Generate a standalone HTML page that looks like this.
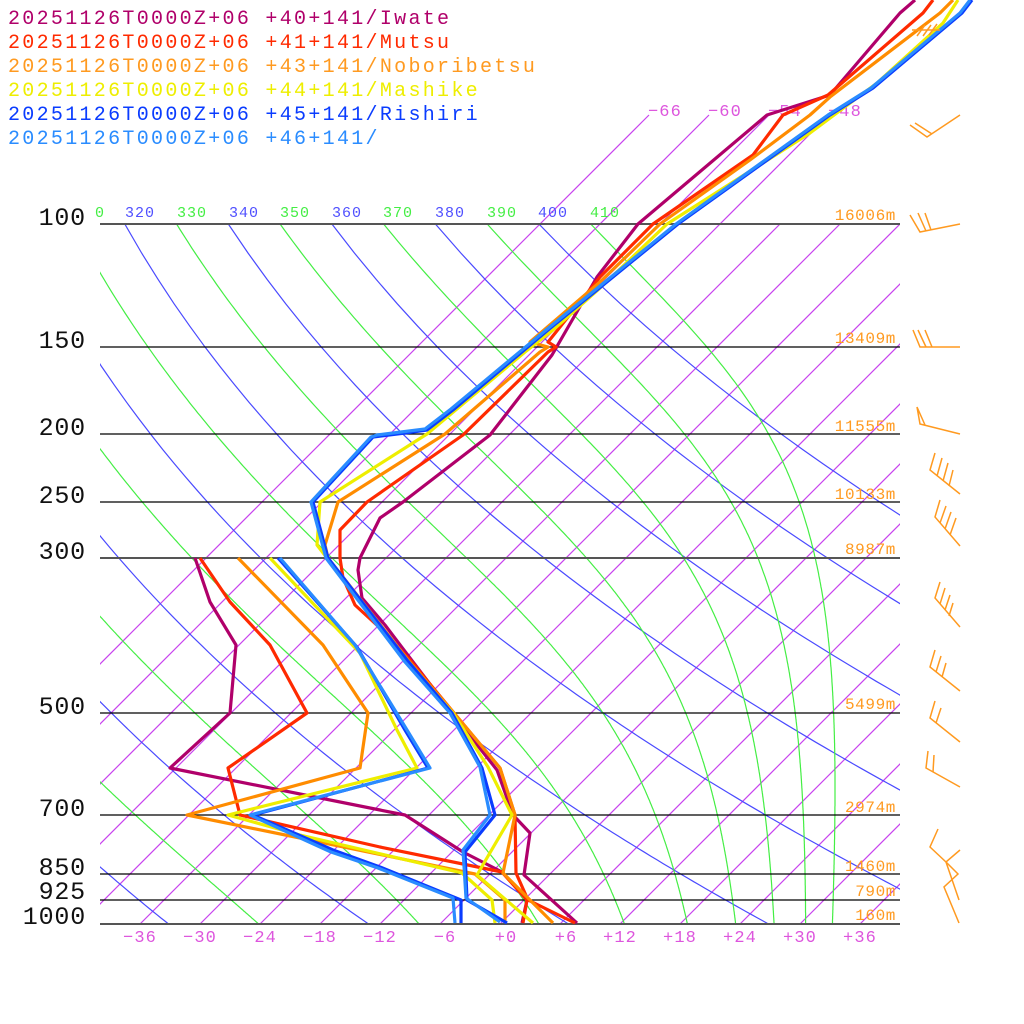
<!DOCTYPE html>
<html><head><meta charset="utf-8"><style>
html,body{margin:0;padding:0;background:#fff;width:1024px;height:1024px;overflow:hidden}
svg{display:block}
text{font-family:"Liberation Mono","DejaVu Sans Mono",monospace}
.lg{font-size:20px;letter-spacing:2.3px}
.pl{font-size:25px;letter-spacing:0.8px;fill:#111}
.bt{font-size:17px;letter-spacing:1.1px;fill:#dd55dd}
.ht{font-size:16px;letter-spacing:0.6px;fill:#ff9a20}
.th{font-size:15px;letter-spacing:1px}
</style></head><body>
<svg id="s" width="1024" height="1024" viewBox="0 0 1024 1024" xmlns="http://www.w3.org/2000/svg">
<defs>
<clipPath id="cp"><rect x="100" y="224" width="800" height="700"/></clipPath>
<clipPath id="cp2"><rect x="100" y="100" width="800" height="824"/></clipPath>
</defs>
<g id="bg"></g>
<g stroke="#000" stroke-width="1.3">
<line x1="100" y1="224" x2="900" y2="224" stroke="#555" stroke-width="2"/>
<line x1="100" y1="347" x2="900" y2="347"/>
<line x1="100" y1="434" x2="900" y2="434"/>
<line x1="100" y1="502" x2="900" y2="502"/>
<line x1="100" y1="558" x2="900" y2="558" stroke="#555" stroke-width="2"/>
<line x1="100" y1="713" x2="900" y2="713"/>
<line x1="100" y1="815" x2="900" y2="815"/>
<line x1="100" y1="874" x2="900" y2="874"/>
<line x1="100" y1="900" x2="900" y2="900"/>
<line x1="100" y1="924" x2="900" y2="924" stroke="#555" stroke-width="2"/>
</g>
<g class="pl" text-anchor="end">
<text x="86" y="225">100</text><text x="86" y="348">150</text><text x="86" y="435">200</text>
<text x="86" y="503">250</text><text x="86" y="559">300</text><text x="86" y="714">500</text>
<text x="86" y="816">700</text><text x="86" y="875">850</text><text x="86" y="899">925</text>
<text x="86" y="924">1000</text>
</g>
<g class="bt" text-anchor="middle">
<text x="140" y="942">−36</text><text x="200" y="942">−30</text><text x="260" y="942">−24</text>
<text x="320" y="942">−18</text><text x="380" y="942">−12</text><text x="445" y="942">−6</text>
<text x="506" y="942">+0</text><text x="566" y="942">+6</text><text x="620" y="942">+12</text>
<text x="680" y="942">+18</text><text x="740" y="942">+24</text><text x="800" y="942">+30</text>
<text x="860" y="942">+36</text>
</g>
<g class="bt" text-anchor="start">
<text x="648" y="116">−66</text><text x="708" y="116">−60</text><text x="768" y="116">−54</text><text x="828" y="116">−48</text>
</g>
<g class="th">
<text x="95" y="217" fill="#44ee44">0</text>
<text x="125" y="217" fill="#5050ff">320</text><text x="177" y="217" fill="#44ee44">330</text>
<text x="229" y="217" fill="#5050ff">340</text><text x="280" y="217" fill="#44ee44">350</text>
<text x="332" y="217" fill="#5050ff">360</text><text x="383" y="217" fill="#44ee44">370</text>
<text x="435" y="217" fill="#5050ff">380</text><text x="487" y="217" fill="#44ee44">390</text>
<text x="538" y="217" fill="#5050ff">400</text><text x="590" y="217" fill="#44ee44">410</text>
</g>
<g class="ht" text-anchor="end">
<text x="896" y="220">16006m</text><text x="896" y="343">13409m</text><text x="896" y="431">11555m</text>
<text x="896" y="499">10133m</text><text x="896" y="554">8987m</text><text x="896" y="709">5499m</text>
<text x="896" y="812">2974m</text><text x="896" y="871">1460m</text><text x="896" y="896">790m</text>
<text x="896" y="920">160m</text>
</g>
<g fill="none" stroke-width="3.2" stroke-linejoin="round">
<polyline stroke="#b0006a" points="577,923 524,875 530,833 513,815 497,770 452,713 410,658 385,625 362,598 358,570 360,558 380,518 403,502 490,435 552,355 597,277 638,224 767,115 830,95 900,13 915,0"/>
<polyline stroke="#b0006a" points="522,923 527,900 502,872 463,852 405,815 380,810 170,768 230,713 236,645 210,602 195,558"/>
<polyline stroke="#ff2a00" points="575,923 528,900 516,873 515,815 500,768 454,713 410,660 380,628 355,605 343,578 340,558 340,530 367,502 463,435 548,352 556,347 548,342 600,277 653,224 753,155 783,115 828,95 923,13 933,0"/>
<polyline stroke="#ff2a00" points="523,923 527,900 502,872 380,847 240,815 228,768 307,713 270,645 230,602 200,558"/>
<polyline stroke="#ff8c00" points="553,923 503,873 515,815 500,768 454,713 408,660 328,558 325,545 338,502 445,434 540,352 548,347 530,342 600,282 660,224 750,160 810,115 830,97 940,13 953,0"/>
<polyline stroke="#ff8c00" points="505,923 505,900 475,874 300,838 187,815 360,768 368,713 323,645 238,558"/>
<polyline stroke="#eeee00" points="533,923 477,875 512,815 488,767 453,713 405,660 327,558 317,545 320,502 427,434 525,352 553,330 600,288 667,224 810,133 877,83 943,23 958,0"/>
<polyline stroke="#eeee00" points="495,923 492,900 462,873 300,835 228,815 417,768 397,730 360,653 270,558"/>
<polyline stroke="#0a3cff" points="507,923 467,900 465,852 495,815 482,768 452,713 407,660 328,558 313,502 373,437 405,433 427,430 453,410 548,330 678,224 830,115 873,88 962,13 972,0"/>
<polyline stroke="#0a3cff" points="461,923 461,900 380,867 333,850 253,815 428,768 405,730 357,647 278,558"/>
<polyline stroke="#2a8cff" points="500,922 466,898 463,850 490,815 480,767 450,713 405,662 326,558 311,502 371,437 377,435 425,429 451,409 546,330 676,224 828,115 871,88 960,13 970,0"/>
<polyline stroke="#2a8cff" points="455,923 453,898 378,868 331,852 250,815 430,768 407,730 355,645 280,558"/>
</g>
<g fill="none" stroke="#ff9a20" stroke-width="1.5">
<polyline points="960,115 927,137 910,125"/><line x1="932" y1="134" x2="915" y2="123"/>
<line x1="917" y1="36" x2="925" y2="25"/><line x1="923" y1="36" x2="931" y2="25"/><line x1="929" y1="35" x2="937" y2="24"/><line x1="912" y1="30" x2="940" y2="30"/>
<polyline points="960,224 920,232 910,215"/><line x1="926" y1="231" x2="918" y2="213"/><line x1="931" y1="230" x2="925" y2="213"/>
<polyline points="960,347 920,347 913,330"/><line x1="926" y1="347" x2="918" y2="330"/><line x1="932" y1="347" x2="925" y2="330"/>
<polyline points="960,434 920,424 917,407 925,425"/>
<polyline points="960,494 930,470 935,453"/><line x1="937" y1="476" x2="942" y2="458"/><line x1="943" y1="481" x2="948" y2="463"/><line x1="949" y1="486" x2="953" y2="470"/>
<polyline points="960,546 935,517 940,500"/><line x1="940" y1="523" x2="946" y2="506"/><line x1="945" y1="529" x2="951" y2="512"/><line x1="950" y1="535" x2="956" y2="518"/>
<polyline points="960,627 935,598 940,582"/><line x1="940" y1="604" x2="945" y2="588"/><line x1="945" y1="610" x2="950" y2="595"/><line x1="949" y1="616" x2="953" y2="603"/>
<polyline points="960,691 930,667 935,650"/><line x1="936" y1="672" x2="941" y2="656"/><line x1="942" y1="677" x2="946" y2="663"/>
<polyline points="960,742 930,718 935,701"/><line x1="936" y1="723" x2="941" y2="708"/>
<polyline points="960,787 926,768 928,751"/><line x1="933" y1="772" x2="934" y2="755"/>
<polyline points="938,829 930,847 946,862 960,850"/><polyline points="946,862 959,900"/>
<polyline points="959,923 944,887 958,874 946,862"/>
</g>
<g class="lg">
<text x="8" y="24" fill="#b0006a">20251126T0000Z+06 +40+141/Iwate</text>
<text x="8" y="48" fill="#ff2a00">20251126T0000Z+06 +41+141/Mutsu</text>
<text x="8" y="72" fill="#ff9a20">20251126T0000Z+06 +43+141/Noboribetsu</text>
<text x="8" y="96" fill="#eeee00">20251126T0000Z+06 +44+141/Mashike</text>
<text x="8" y="120" fill="#0a3cff">20251126T0000Z+06 +45+141/Rishiri</text>
<text x="8" y="144" fill="#2a8cff">20251126T0000Z+06 +46+141/</text>
</g>
</svg>
<script>
(function(){
var NS="http://www.w3.org/2000/svg",bg=document.getElementById("bg");
function Y(p){return 924-304*Math.log(1000/p);}
function X(T,y){return 500+10*(T-273.15)+(924-y);}
function add(d,c,clip,w){var e=document.createElementNS(NS,"path");e.setAttribute("d",d);e.setAttribute("stroke",c);e.setAttribute("fill","none");e.setAttribute("stroke-width",w||1.2);e.setAttribute("clip-path","url(#"+clip+")");bg.appendChild(e);}
for(var t=-66;t<=36;t+=6){var yt=(t<=-48)?115:224;var x0=500+10*t, x1=500+10*t+(924-yt);add("M"+x0+",924L"+x1+","+yt,"#c844ee",t<=-48?"cp2":"cp",1.2);}
for(var th=240;th<=400;th+=20){var d="";for(var p=100;p<=1000;p+=10){var T=th*Math.pow(p/1000,0.286),y=Y(p);d+=(p==100?"M":"L")+X(T,y).toFixed(1)+","+y.toFixed(1);}add(d,"#4a4aff","cp",1.2);}
function es(T){var c=T-273.15;return 6.112*Math.exp(17.67*c/(c+243.5));}
for(var th=250;th<=410;th+=20){var p=100,T=th*Math.pow(0.1,0.286),d="";var y=Y(p);d="M"+X(T,y).toFixed(1)+","+y.toFixed(1);
while(p<1000){var dp=2;var e=es(T),rs=0.622*e/Math.max(p-e,1);var g=(287*T+2.5e6*rs)/(p*(1004+2.5e6*2.5e6*rs*0.622/(287*T*T)));T+=g*dp;p+=dp;y=Y(p);d+="L"+X(T,y).toFixed(1)+","+y.toFixed(1);}
add(d,"#44ee44","cp",1.2);}
})();
</script>
</body></html>
